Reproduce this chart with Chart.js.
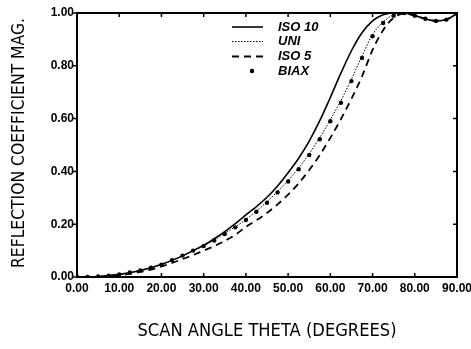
<!DOCTYPE html>
<html><head><meta charset="utf-8">
<script src="https://cdn.jsdelivr.net/npm/chart.js@4/dist/chart.umd.min.js"></script>
<style>html,body{margin:0;padding:0;background:#fff;}#wrap{width:471px;height:349px;position:relative;}</style>
</head><body><div id="wrap"><canvas id="c" width="471" height="349"></canvas></div>
<script>
const angles = [0,2.5,5,7.5,10,12.5,15,17.5,20,22.5,25,27.5,30,32.5,35,37.5,40,42.5,45,47.5,50,52.5,55,57.5,60,62.5,65,67.5,70,72.5,75,77.5,80,82.5,85,87.5,90];
const iso10 = [0,0.0005,0.002,0.005,0.01,0.016,0.025,0.035,0.048,0.063,0.08,0.1,0.12,0.145,0.172,0.202,0.235,0.267,0.302,0.345,0.395,0.45,0.515,0.592,0.68,0.772,0.857,0.925,0.97,0.993,1.0,1.0,0.99,0.978,0.97,0.975,0.998];
const uni = [0,0.0005,0.002,0.005,0.01,0.016,0.025,0.035,0.047,0.063,0.08,0.099,0.118,0.14,0.165,0.19,0.218,0.25,0.285,0.324,0.366,0.413,0.467,0.528,0.596,0.668,0.75,0.837,0.918,0.966,0.993,1.0,0.99,0.978,0.97,0.975,0.998];
const biax = [0,0.0005,0.002,0.005,0.01,0.017,0.025,0.035,0.047,0.064,0.081,0.1,0.117,0.138,0.163,0.188,0.216,0.247,0.281,0.32,0.362,0.408,0.462,0.522,0.59,0.66,0.742,0.83,0.912,0.962,0.99,1.0,0.99,0.978,0.97,0.975,0.998];
const iso5 = [0,0.0003,0.001,0.004,0.007,0.012,0.019,0.028,0.04,0.053,0.068,0.083,0.1,0.117,0.137,0.16,0.19,0.215,0.243,0.275,0.312,0.355,0.405,0.462,0.527,0.598,0.675,0.76,0.86,0.935,0.982,0.998,0.99,0.978,0.97,0.975,0.998];
const seriesNames = ['ISO 10','UNI','ISO 5','BIAX'];
const xTicks = [0,10,20,30,40,50,60,70,80,90];
const yTicks = [0,0.2,0.4,0.6,0.8,1.0];
const xTitle = 'SCAN ANGLE THETA (DEGREES)';
const yTitle = 'REFLECTION COEFFICIENT MAG.';

const pts = arr => angles.map((a,i)=>({x:a,y:arr[i]}));

const framePlugin = {
  id:'frame',
  afterDraw(chart){
    const {ctx, chartArea:a, scales:{x,y}} = chart;
    ctx.save();
    ctx.strokeStyle='#000';
    ctx.lineWidth=2;
    ctx.strokeRect(a.left, a.top, a.right-a.left, a.bottom-a.top);
    ctx.lineWidth=1.5;
    ctx.beginPath();
    xTicks.forEach(v=>{const px=x.getPixelForValue(v);
      ctx.moveTo(px,a.bottom);ctx.lineTo(px,a.bottom-4);
      ctx.moveTo(px,a.top);ctx.lineTo(px,a.top+4);});
    yTicks.forEach(v=>{const py=y.getPixelForValue(v);
      ctx.moveTo(a.right,py);ctx.lineTo(a.right-4,py);
      ctx.moveTo(a.left,py);ctx.lineTo(a.left-4,py);});
    ctx.stroke();
    // legend
    const lx0=232, lx1=263, tx=278;
    const rows=[27,41.5,56.5,71];
    ctx.font='bold italic 13px "Liberation Sans", Arial, sans-serif';
    ctx.fillStyle='#000';ctx.textBaseline='middle';ctx.textAlign='left';
    ctx.lineWidth=1.6;ctx.setLineDash([]);
    ctx.beginPath();ctx.moveTo(lx0,rows[0]);ctx.lineTo(lx1,rows[0]);ctx.stroke();
    ctx.lineWidth=1;ctx.setLineDash([1.5,1.5]);
    ctx.beginPath();ctx.moveTo(lx0,rows[1]);ctx.lineTo(lx1,rows[1]);ctx.stroke();
    ctx.lineWidth=1.8;ctx.setLineDash([7,5]);
    ctx.beginPath();ctx.moveTo(lx0,rows[2]);ctx.lineTo(lx1+2,rows[2]);ctx.stroke();
    ctx.setLineDash([]);
    ctx.beginPath();ctx.arc(252,rows[3],2.2,0,Math.PI*2);ctx.fill();
    seriesNames.forEach((n,i)=>ctx.fillText(n,tx,rows[i]));
    ctx.font='17px "DejaVu Sans", sans-serif';
    ctx.textAlign='center';ctx.textBaseline='middle';
    let w=ctx.measureText(xTitle).width;
    ctx.save();ctx.translate(267,332);ctx.scale(259/w,1);ctx.fillText(xTitle,0,0);ctx.restore();
    w=ctx.measureText(yTitle).width;
    ctx.save();ctx.translate(20,143);ctx.rotate(-Math.PI/2);ctx.scale(250/w,1);ctx.fillText(yTitle,0,0);ctx.restore();
    ctx.restore();
  }
};

const lineStyle = {showLine:true,borderColor:'#000',pointRadius:0,cubicInterpolationMode:'monotone',fill:false};
new Chart(document.getElementById('c'),{
  type:'scatter',
  data:{datasets:[
    Object.assign({label:seriesNames[0],data:pts(iso10),borderWidth:1.6},lineStyle),
    Object.assign({label:seriesNames[1],data:pts(uni),borderWidth:1,borderDash:[1.5,1.5]},lineStyle),
    Object.assign({label:seriesNames[2],data:pts(iso5),borderWidth:1.8,borderDash:[7,5]},lineStyle),
    {label:seriesNames[3],data:pts(biax),showLine:false,pointRadius:2.2,pointBackgroundColor:'#000',pointBorderWidth:0}
  ]},
  options:{
    responsive:false,animation:false,
    layout:{padding:{top:13,right:14,left:0,bottom:0}},
    plugins:{legend:{display:false},tooltip:{enabled:false}},
    scales:{
      x:{type:'linear',min:0,max:90,
        afterBuildTicks(s){s.ticks=xTicks.map(v=>({value:v}));},
        afterFit(s){s.height=72;s.paddingRight=0;s.paddingLeft=0;},
        border:{display:false},
        grid:{display:false,drawTicks:false,tickLength:0},
        ticks:{color:'#000',padding:4,maxRotation:0,autoSkip:false,font:{family:'"Liberation Sans", Arial, sans-serif',size:12,weight:'bold'},callback:v=>Number(v).toFixed(2)}},
      y:{min:0,max:1,
        afterBuildTicks(s){s.ticks=yTicks.map(v=>({value:v}));},
        afterFit(s){s.width=77;s.paddingTop=0;s.paddingBottom=0;},
        border:{display:false},
        grid:{display:false,drawTicks:false,tickLength:0},
        ticks:{color:'#000',padding:3,font:{family:'"Liberation Sans", Arial, sans-serif',size:12,weight:'bold'},callback:v=>Number(v).toFixed(2)}}
    }
  },
  plugins:[framePlugin]
});
</script></body></html>
